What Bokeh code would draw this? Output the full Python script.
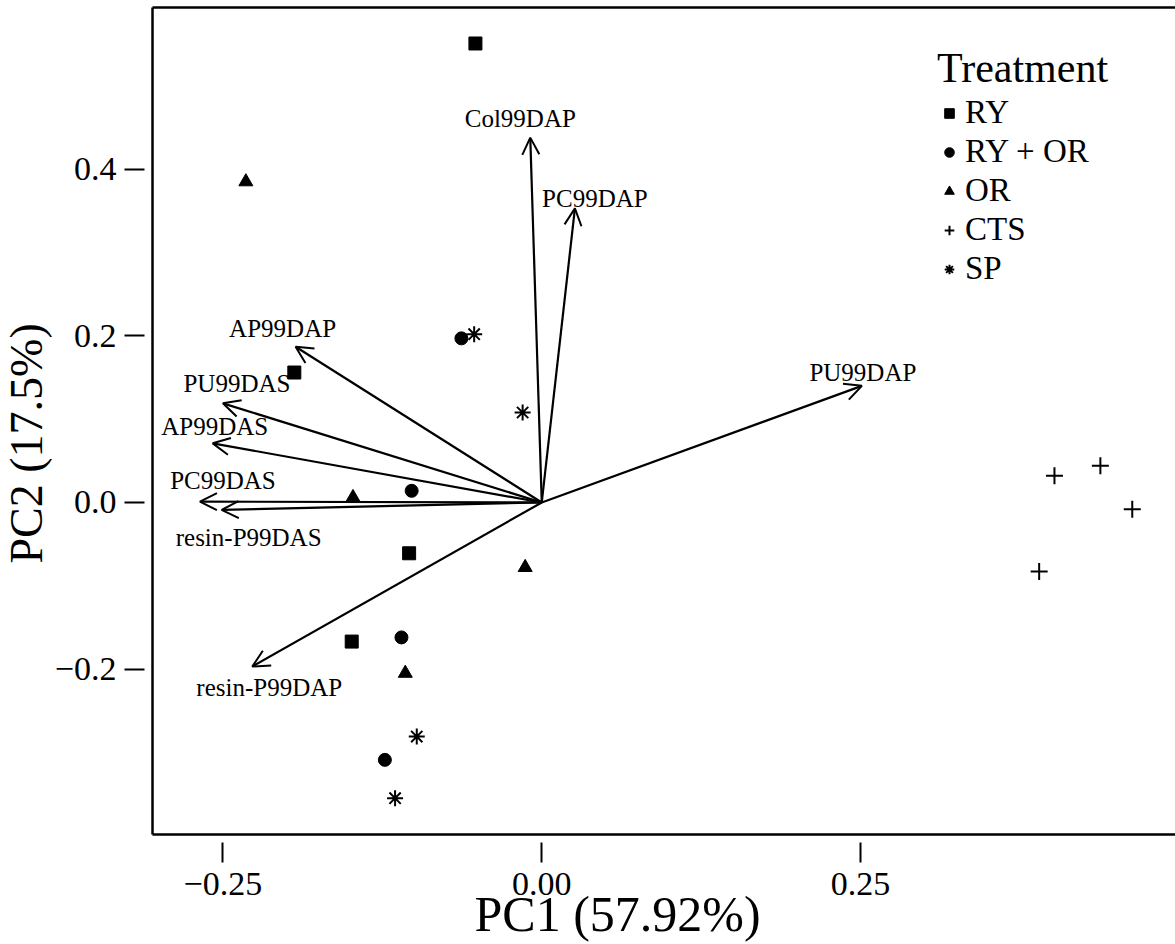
from bokeh.plotting import figure
from bokeh.models import (Range1d, LinearAxis, FixedTicker, CustomJSTickFormatter, Arrow,
                          OpenHead, ColumnDataSource, Legend, LegendItem, Title)
from bokeh.core.properties import value
from bokeh.embed import file_html
from bokeh.resources import INLINE

FONT = "Liberation Serif"

# ---- sample scores (PC1, PC2) per treatment ----
ry_pc1 = [-0.052, -0.194, -0.104, -0.149]
ry_pc2 = [0.551, 0.156, -0.061, -0.167]
ryor_pc1 = [-0.063, -0.102, -0.110, -0.123]
ryor_pc2 = [0.197, 0.014, -0.162, -0.309]
or_pc1 = [-0.232, -0.148, -0.013, -0.107]
or_pc2 = [0.385, 0.006, -0.078, -0.205]
cts_pc1 = [0.402, 0.438, 0.463, 0.390]
cts_pc2 = [0.032, 0.044, -0.008, -0.083]
sp_pc1 = [-0.053, -0.015, -0.098, -0.115]
sp_pc2 = [0.202, 0.108, -0.281, -0.355]

# ---- variable loadings (arrow tips) ----
variables = ["Col99DAP", "PC99DAP", "AP99DAP", "PU99DAS", "AP99DAS",
             "PC99DAS", "resin-P99DAS", "resin-P99DAP", "PU99DAP"]
load_pc1 = [-0.009, 0.026, -0.193, -0.250, -0.258, -0.268, -0.251, -0.227, 0.251]
load_pc2 = [0.438, 0.353, 0.187, 0.119, 0.071, 0.001, -0.009, -0.197, 0.140]

x_ticks = [-0.25, 0.0, 0.25]
y_ticks = [-0.2, 0.0, 0.2, 0.4]
x_title = "PC1 (57.92%)"
y_title = "PC2 (17.5%)"
legend_title = "Treatment"

# label offsets in screen pixels (style)
lab_dx = [-10, 20, -13, 14, 2, 23, 27, 17, 1]
lab_dy = [-19, -10, -18, -20, -17, -21, 28, 21, -13]

p = figure(width=1175, height=944,
           x_range=Range1d(-0.3052, 0.4969), y_range=Range1d(-0.3986, 0.5942),
           output_backend="svg", toolbar_location=None,
           min_border_left=150, min_border_right=0, min_border_top=7, min_border_bottom=110)
p.grid.visible = False
p.outline_line_color = None
p.background_fill_color = "white"

xfmt = CustomJSTickFormatter(code="""
const s = Math.abs(tick).toFixed(2);
return tick < -1e-9 ? "\\u2212" + s : s;""")
yfmt = CustomJSTickFormatter(code="""
const s = Math.abs(tick).toFixed(1);
return tick < -1e-9 ? "\\u2212" + s : s;""")

for ax, tk, fm, so in ((p.xaxis[0], x_ticks, xfmt, 10), (p.yaxis[0], y_ticks, yfmt, 8)):
    ax.ticker = FixedTicker(ticks=tk)
    ax.formatter = fm
    ax.axis_line_width = 2.5
    ax.axis_line_color = "black"
    ax.major_tick_in = -8
    ax.major_tick_out = 28
    ax.major_tick_line_width = 2
    ax.major_tick_line_color = "black"
    ax.minor_tick_line_color = None
    ax.major_label_text_font = FONT
    ax.major_label_text_font_size = "34px"
    ax.major_label_text_color = "black"
    ax.major_label_standoff = so
p.yaxis[0].major_label_orientation = "horizontal"

top = LinearAxis(ticker=FixedTicker(ticks=[]), axis_line_width=2.5, axis_line_color="black",
                 major_tick_in=0, major_tick_out=0, minor_tick_line_color=None,
                 major_tick_line_color=None, major_label_text_font_size="0px")
p.add_layout(top, "above")

# arrows
n = len(variables)
asrc = ColumnDataSource(dict(x0=[0.0] * n, y0=[0.0] * n, x1=load_pc1, y1=load_pc2,
                             name=variables, dx=lab_dx, dy=lab_dy))
p.add_layout(Arrow(end=OpenHead(size=17, line_width=2, line_color="black"),
                   x_start="x0", y_start="y0", x_end="x1", y_end="y1", source=asrc,
                   line_width=2.2, line_color="black"))
p.text(x="x1", y="y1", text="name", x_offset="dx", y_offset="dy", source=asrc,
       text_font=value(FONT), text_font_size="25px", text_color="black",
       text_align="center", text_baseline="middle")

# points
r_ry = p.scatter(ry_pc1, ry_pc2, marker="square", size=13, color="black")
r_ryor = p.scatter(ryor_pc1, ryor_pc2, marker="circle", size=13, color="black")
r_or = p.scatter(or_pc1, or_pc2, marker="triangle", size=14, color="black")
r_cts = p.scatter(cts_pc1, cts_pc2, marker="cross", size=17, line_width=2, color="black")
r_sp = p.scatter(sp_pc1, sp_pc2, marker="asterisk", size=16, line_width=2, color="black")

legend = Legend(items=[LegendItem(label="RY", renderers=[r_ry]),
                       LegendItem(label="RY + OR", renderers=[r_ryor]),
                       LegendItem(label="OR", renderers=[r_or]),
                       LegendItem(label="CTS", renderers=[r_cts]),
                       LegendItem(label="SP", renderers=[r_sp])],
                title=legend_title, location=(785, 547),
                title_text_font=FONT, title_text_font_size="42px", title_text_font_style="normal",
                title_text_color="black", title_standoff=2,
                label_text_font=FONT, label_text_font_size="33px", label_text_color="black",
                glyph_width=24, glyph_height=24, label_standoff=4, spacing=2, padding=0,
                margin=0, border_line_color=None, background_fill_alpha=0)
p.add_layout(legend)

p.add_layout(Title(text=x_title, align="left", offset=322, vertical_align="top", standoff=-24,
                   text_font=FONT, text_font_size="50px", text_font_style="normal",
                   text_color="black"), "below")
p.add_layout(Title(text=y_title, align="left", offset=271, vertical_align="middle", standoff=-2,
                   text_font=FONT, text_font_size="46px", text_font_style="normal",
                   text_color="black"), "left")

with open("out.html", "w", encoding="utf-8") as f:
    f.write(file_html(p, INLINE))
